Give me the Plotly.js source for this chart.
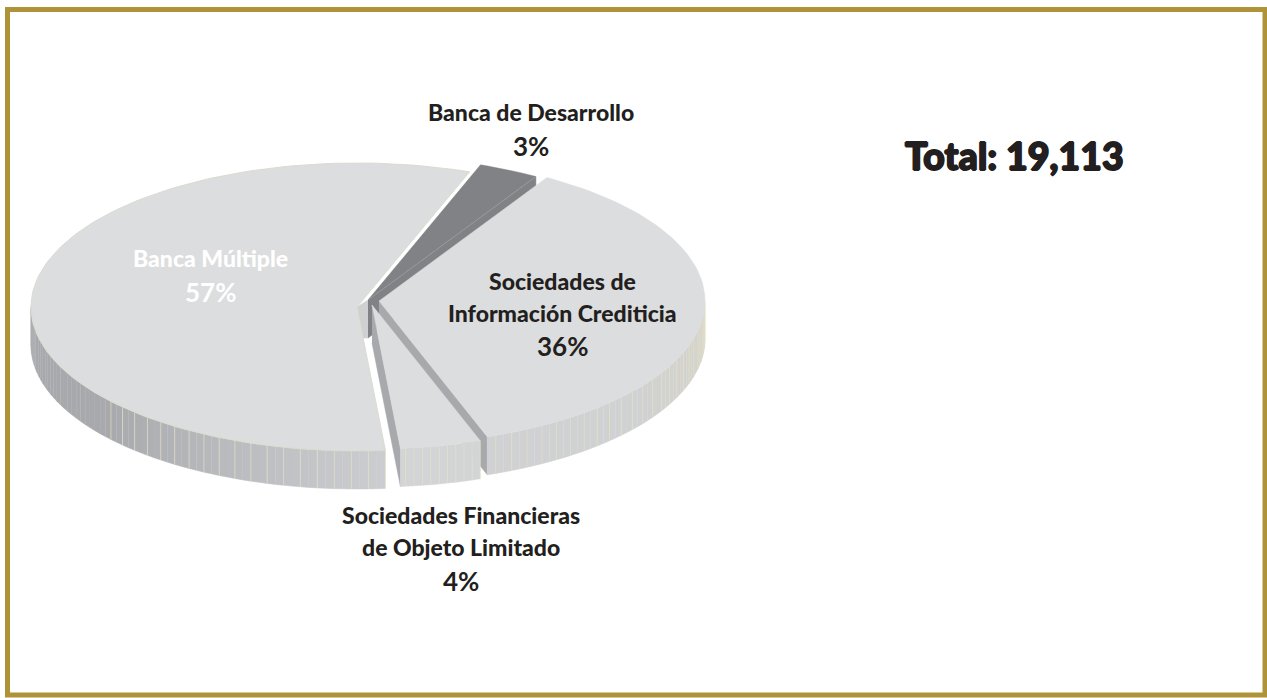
<!DOCTYPE html>
<html><head><meta charset="utf-8">
<script src="https://cdn.plot.ly/plotly-3.0.1.min.js"></script>
<style>html,body{margin:0;padding:0;background:#fff;overflow:hidden}</style>
</head><body><div id="chart" style="width:1267px;height:698px"></div>
<script>
// Data
var categories = ["Banca de Desarrollo", "Sociedades de Información Crediticia", "Sociedades Financieras de Objeto Limitado", "Banca Múltiple"];
var shares = [3, 36, 4, 57];
var totalLabel = "Total: 19,113";

// Geometry of the tilted pie (one data unit = one pixel)
var startAngle = 69.8, rx = 326, ry = 144, depth = 38, stepDeg = 1.5;
var centres = [[368, 300], [379, 301], [372, 305], [357, 307]];
var topColours = ["#808285", "#dcddde", "#dcddde", "#dcddde"];
var faceColours = ["#808285", "#a8a9ad", "#a8a9ad", "#cfd0d2"];
var stripeEvery = [1, 2, 1, 2];
var stripe = "#e3dfc4";

function pt(c, deg, dz) {
  var r = deg * Math.PI / 180;
  return [c[0] + rx * Math.cos(r), c[1] - ry * Math.sin(r) + (dz || 0)];
}
function poly(points, fill, lineColor, lineWidth) {
  return {type: "scatter", mode: "lines", x: points.map(function (p) { return p[0]; }), y: points.map(function (p) { return p[1]; }),
    fill: "toself", fillcolor: fill, line: {color: lineColor || fill, width: lineWidth === undefined ? 0.5 : lineWidth},
    hoverinfo: "skip", showlegend: false};
}
function mix(a, b, t) {
  t = Math.max(0, Math.min(1, t));
  return "rgb(" + a.map(function (v, i) { return Math.round(v + (b[i] - v) * t); }).join(",") + ")";
}
function wallColour(i, deg) {
  if (i === 3) {                       // Banca Múltiple: dark on the left, lighter towards the front
    return mix([168, 169, 173], [205, 206, 208], (deg + 140) / 55);
  }
  if (i === 1) {                       // Información Crediticia: light, warmer towards the right
    return mix([208, 209, 211], [214, 212, 200], (deg + 40) / 40);
  }
  return "#d3d4d6";
}

// Slice angle ranges from the shares
var sliceAngles = [], a = startAngle;
shares.forEach(function (s) { sliceAngles.push([a, a - s * 3.6]); a -= s * 3.6; });

function arc(c, from, to, dz) {
  var out = [], n = Math.max(2, Math.ceil(Math.abs(to - from) / stepDeg));
  for (var k = 0; k <= n; k++) out.push(pt(c, from + (to - from) * k / n, dz));
  return out;
}
function outerWall(i) {
  var res = [], c = centres[i], from = sliceAngles[i][0], to = sliceAngles[i][1];
  var hi = Math.min(from, 0), lo = Math.max(to, -180);
  if (hi <= lo) return res;
  var sx = [], sy = [], idx = 0;
  for (var d = hi; d > lo; d -= stepDeg) {
    var e = Math.max(d - stepDeg, lo);
    res.push(poly([pt(c, d), pt(c, e), pt(c, e, depth), pt(c, d, depth)], wallColour(i, (d + e) / 2)));
    if (idx % stripeEvery[i] === 0 && d > -140) {
      var p = pt(c, d), q = pt(c, d, depth);
      sx.push(p[0], q[0], null); sy.push(p[1], q[1], null);
    }
    idx++;
  }
  res.push({type: "scatter", mode: "lines", x: sx, y: sy, line: {color: stripe, width: 0.7}, hoverinfo: "skip", showlegend: false});
  return res;
}
function cutFace(i, deg) {
  var c = centres[i];
  return poly([c, pt(c, deg), pt(c, deg, depth), [c[0], c[1] + depth]], faceColours[i]);
}
function topFace(i) {
  var c = centres[i];
  return poly([c].concat(arc(c, sliceAngles[i][0], sliceAngles[i][1])).concat([c]), topColours[i]);
}

var traces = [];
// Banca Múltiple first (left, behind the gap)
traces = traces.concat(outerWall(3));
traces.push(poly([centres[3], centres[0], [centres[0][0], centres[0][1] + depth], [centres[3][0] + (depth - 7) * 0.19, centres[3][1] + depth - 7]], faceColours[3]));
var bancaTop = topFace(3); bancaTop.line = {color: "#dcdbcf", width: 1};
traces.push(bancaTop);
// Banca de Desarrollo
traces.push(cutFace(0, sliceAngles[0][1]));
var devTop = topFace(0); devTop.line = {color: "#808285", width: 0.5};
traces.push(devTop);
var devEnd = pt(centres[0], sliceAngles[0][1]);
traces.push({type: "scatter", mode: "lines", x: [centres[0][0], devEnd[0]], y: [centres[0][1], devEnd[1]], line: {color: "#a3a4a7", width: 0.6}, hoverinfo: "skip", showlegend: false});
// Información Crediticia
traces.push(cutFace(1, sliceAngles[1][1]));
traces = traces.concat(outerWall(1));
traces.push(topFace(1));
// Sociedades Financieras
traces.push(cutFace(2, sliceAngles[2][1]));
traces = traces.concat(outerWall(2));
traces.push(topFace(2));

var lab = "Lato", w = 900;
function note(x, y, text, size, colour, weight) {
  return {xref: "x", yref: "y", x: x, y: y, text: text, showarrow: false, xanchor: "center", yanchor: "middle",
    font: {family: lab, size: size, color: colour || "#231f20", weight: weight || w}};
}
var annotations = [
  note(531, 112, categories[0], 23), note(531, 146, shares[0] + "%", 26, null, 700),
  note(562, 281, "Sociedades de", 23), note(562, 313, "Información Crediticia", 23), note(562, 346, shares[1] + "%", 26, null, 700),
  note(461, 515, "Sociedades Financieras", 23), note(461, 547, "de Objeto Limitado", 23), note(461, 581, shares[2] + "%", 26, null, 700),
  note(210, 258, categories[3], 23, "#ffffff"), note(210, 292, shares[3] + "%", 26, "#ffffff", 700),
  {xref: "x", yref: "y", x: 1014, y: 155, text: totalLabel, showarrow: false, xanchor: "center", yanchor: "middle",
    font: {family: "Lato", size: 37.5, color: "#231f20", weight: 900,
      shadow: "0.9px 0 0 #231f20, -0.9px 0 0 #231f20, 0 0.7px 0 #231f20, 0 -0.7px 0 #231f20"}}
];

var layout = {
  width: 1267, height: 698, margin: {l: 0, r: 0, t: 0, b: 0}, paper_bgcolor: "#ffffff", plot_bgcolor: "#ffffff",
  showlegend: false,
  xaxis: {range: [0, 1267], visible: false, fixedrange: true},
  yaxis: {range: [698, 0], visible: false, fixedrange: true},
  annotations: annotations,
  shapes: [{type: "rect", xref: "x", yref: "y", x0: 7.5, y0: 9.5, x1: 1265, y1: 695, line: {color: "#ae9339", width: 5}, fillcolor: "rgba(0,0,0,0)"}]
};
Plotly.newPlot("chart", traces, layout, {displayModeBar: false, staticPlot: true});
</script></body></html>
